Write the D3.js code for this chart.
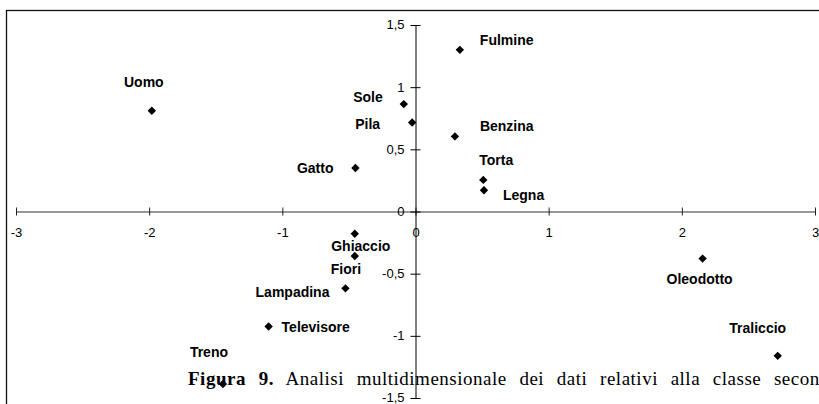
<!DOCTYPE html>
<html><head><meta charset="utf-8">
<script src="https://cdn.jsdelivr.net/npm/d3@7"></script>
<style>body{margin:0;background:#fff}svg{display:block}</style>
</head><body>
<script>
// ---- data ----
const names = ["Uomo","Sole","Pila","Gatto","Fulmine","Benzina","Torta","Legna","Ghiaccio","Fiori","Lampadina","Televisore","Treno","Oleodotto","Traliccio"];
const xValues = [-1.98,-0.088,-0.025,-0.451,0.333,0.296,0.509,0.514,-0.456,-0.456,-0.526,-1.103,-1.446,2.156,2.72];
const yValues = [0.81,0.864,0.716,0.35,1.30,0.604,0.254,0.171,-0.179,-0.358,-0.618,-0.925,-1.388,-0.379,-1.161];
const xTicks = [-3,-2,-1,0,1,2,3];
const yTicks = [-1.5,-1,-0.5,0,0.5,1,1.5];
const captionBold = "Figura 9.";
const captionRest = " Analisi multidimensionale dei dati relativi alla classe seconda";

// ---- label placement (presentation only) ----
const labelAnchor = ["middle","end","end","end","start","start","start","start","middle","start","end","start","middle","middle","middle"];
const labelDx = [-8,-21,-32,-22,20,25,-4,19,6,-24,-16,13,-14,-3,-20];
const labelDy = [-29,-7,2,0,-10,-10,-20,5,12,13,4,1,-32,20,-28];

const W = 819, H = 404;
const svg = d3.select("body").append("svg").attr("width", W).attr("height", H);

const x = d3.scaleLinear().domain([-3, 3]).range([16, 815]);
const y = d3.scaleLinear().domain([-1.5, 1.5]).range([398, 25]);
const loc = d3.formatLocale({decimal: ",", thousands: ".", grouping: [3], currency: ["", "€"], minus: "-"});
const fmt = loc.format("");

// frame
svg.append("rect").attr("x", 6.5).attr("y", 10.5).attr("width", 840).attr("height", 420)
  .attr("fill", "none").attr("stroke", "#111").attr("stroke-width", 1.3);

const tickFont = "'Liberation Sans', Arial, sans-serif";

// x axis
const gx = svg.append("g").attr("transform", `translate(0,${y(0)})`)
  .call(d3.axisBottom(x).tickValues(xTicks).tickFormat(fmt).tickSizeOuter(0));
gx.select(".domain").attr("stroke", "#333");
gx.selectAll(".tick line").attr("y1", -4).attr("y2", 4).attr("stroke", "#222");
gx.selectAll(".tick text").attr("y", 21).attr("dy", "0.35em")
  .attr("font-family", tickFont).attr("font-size", 13).attr("fill", "#000");

// y axis
const gy = svg.append("g").attr("transform", `translate(${x(0)},0)`)
  .call(d3.axisLeft(y).tickValues(yTicks).tickFormat(fmt).tickSizeOuter(0));
gy.select(".domain").attr("stroke", "#000");
gy.selectAll(".tick line").attr("x1", -5).attr("x2", 5).attr("stroke", "#000");
gy.selectAll(".tick text").attr("x", -11).attr("dy", "0.3em")
  .attr("font-family", tickFont).attr("font-size", 13).attr("fill", "#000");

// points
const data = names.map((n, i) => ({name: n, x: xValues[i], y: yValues[i], i}));
const diamond = "M0,-4.2L4.2,0L0,4.2L-4.2,0Z";
svg.append("g").selectAll("path").data(data).join("path")
  .attr("d", diamond)
  .attr("transform", d => `translate(${x(d.x)},${y(d.y)})`)
  .attr("fill", "#000");

// labels
svg.append("g").selectAll("text").data(data).join("text")
  .attr("x", d => x(d.x) + labelDx[d.i])
  .attr("y", d => y(d.y) + labelDy[d.i])
  .attr("dy", "0.35em")
  .attr("text-anchor", d => labelAnchor[d.i])
  .attr("font-family", tickFont).attr("font-weight", "bold").attr("font-size", 14)
  .attr("fill", "#000")
  .text(d => d.name);

// caption
const cap = svg.append("text").attr("x", 188).attr("y", 385)
  .attr("font-family", "'Liberation Serif', 'Times New Roman', serif").attr("font-size", 19)
  .attr("letter-spacing", 0.5).attr("word-spacing", 7.5)
  .attr("fill", "#000");
cap.append("tspan").attr("font-weight", "bold").text(captionBold);
cap.append("tspan").text(captionRest);
</script>
</body></html>
